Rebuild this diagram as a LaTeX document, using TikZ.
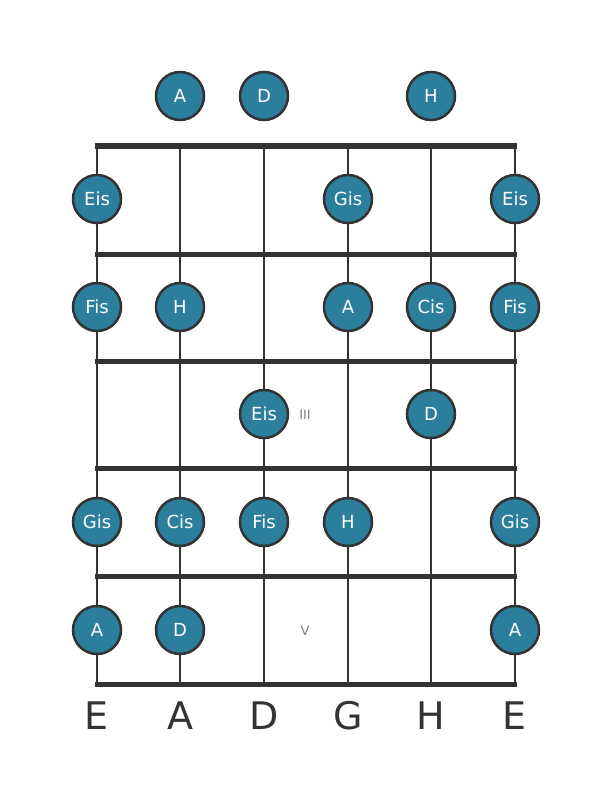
\documentclass[tikz,border=0pt]{standalone}
\usepackage{fontspec}
\setmainfont{DejaVu Sans}
\definecolor{notefill}{HTML}{2B7F9C}
\definecolor{linegray}{HTML}{333333}
\tikzset{
    note/.style={circle, draw=linegray, line width=2.5pt, fill=notefill, minimum size=48pt, inner sep=0pt, text=white, font=\fontsize{18}{18}\selectfont},
    fretline/.style={draw=linegray, line width=5pt},
    stringline/.style={draw=linegray, line width=2.8pt},
    stringname/.style={text=linegray, font=\fontsize{38}{38}\selectfont},
    fretnum/.style={text=gray, font=\fontsize{13}{13}\selectfont}
}

\begin{document}
\begin{tikzpicture}[x=1pt, y=-1pt]
    \useasboundingbox (0,0) rectangle (611,801);

    % Strings
    \draw[stringline] (97,146) -- (97,684);
    \draw[stringline] (180,146) -- (180,684);
    \draw[stringline] (264,146) -- (264,684);
    \draw[stringline] (348,146) -- (348,684);
    \draw[stringline] (431,146) -- (431,684);
    \draw[stringline] (515,146) -- (515,684);

    % Frets
    \draw[fretline, line width=6pt] (95,146) -- (517,146);
    \draw[fretline] (95,254) -- (517,254);
    \draw[fretline] (95,361) -- (517,361);
    \draw[fretline] (95,468) -- (517,468);
    \draw[fretline] (95,576) -- (517,576);
    \draw[fretline] (95,684) -- (517,684);

    % Open strings
    \node[note] (o2) at (180,96) {A};
    \node[note] (o3) at (264,96) {D};
    \node[note] (o5) at (431,96) {H};

    % Fret 1
    \node[note] (a1) at (97,199) {Eis};
    \node[note] (a4) at (348,199) {Gis};
    \node[note] (a6) at (515,199) {Eis};

    % Fret 2
    \node[note] (b1) at (97,307) {Fis};
    \node[note] (b2) at (180,307) {H};
    \node[note] (b4) at (348,307) {A};
    \node[note] (b5) at (431,307) {Cis};
    \node[note] (b6) at (515,307) {Fis};

    % Fret 3
    \node[note] (c3) at (264,414) {Eis};
    \node[note] (c5) at (431,414) {D};
    \node[fretnum] (n3) at (305,415) {III};

    % Fret 4
    \node[note] (d1) at (97,522) {Gis};
    \node[note] (d2) at (180,522) {Cis};
    \node[note] (d3) at (264,522) {Fis};
    \node[note] (d4) at (348,522) {H};
    \node[note] (d6) at (515,522) {Gis};

    % Fret 5
    \node[note] (e1) at (97,630) {A};
    \node[note] (e2) at (180,630) {D};
    \node[note] (e6) at (515,630) {A};
    \node[fretnum] (n5) at (305,631) {V};

    % String names
    \node[stringname] (s1) at (97,716) {E};
    \node[stringname] (s2) at (180,716) {A};
    \node[stringname] (s3) at (264,716) {D};
    \node[stringname] (s4) at (348,716) {G};
    \node[stringname] (s5) at (431,716) {H};
    \node[stringname] (s6) at (515,716) {E};
\end{tikzpicture}
\end{document}
